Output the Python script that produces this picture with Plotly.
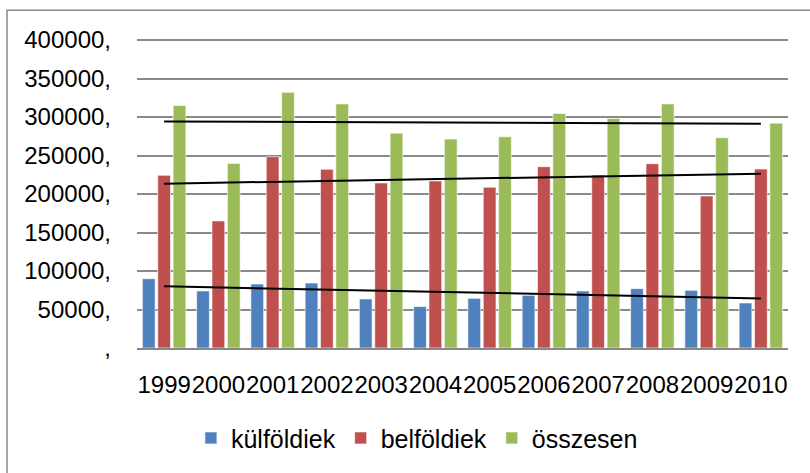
import numpy as np
import plotly.graph_objects as go

years = ["1999", "2000", "2001", "2002", "2003", "2004", "2005", "2006", "2007", "2008", "2009", "2010"]
kulfoldiek = [90000, 74100, 83100, 84400, 63700, 53800, 64500, 68400, 74100, 77100, 74900, 58500]
belfoldiek = [224300, 165100, 248500, 232100, 214400, 217000, 208800, 235500, 224700, 239400, 197500, 232500]
osszesen = [315000, 239800, 332200, 317100, 279100, 271400, 274400, 304600, 298100, 317100, 273100, 292100]
series_names = ["külföldiek", "belföldiek", "összesen"]
colors = ["#4F81BD", "#C0504D", "#9BBB59"]
ytick_vals = [0, 50000, 100000, 150000, 200000, 250000, 300000, 350000, 400000]
ytick_text = [",", "50000,", "100000,", "150000,", "200000,", "250000,", "300000,", "350000,", "400000,"]

FONT = "Liberation Sans"
fig = go.Figure()
for name, vals, col in zip(series_names, [kulfoldiek, belfoldiek, osszesen], colors):
    fig.add_trace(go.Bar(x=years, y=vals, name=name,
                         marker=dict(color=col, line=dict(color="rgba(255,255,255,0.6)", width=1))))

# linear trendlines fitted to each series
xi = np.arange(len(years))
for vals in [kulfoldiek, belfoldiek, osszesen]:
    k, b = np.polyfit(xi, vals, 1)
    fig.add_trace(go.Scatter(x=years, y=list(k * xi + b), mode="lines",
                             line=dict(color="black", width=2), showlegend=False, hoverinfo="skip"))

fig.update_layout(
    width=810, height=473,
    margin=dict(l=137, r=22, t=37, b=125, autoexpand=False),
    paper_bgcolor="white", plot_bgcolor="white",
    barmode="group", bargap=0.15, bargroupgap=0.17,
    font=dict(family=FONT, size=24, color="black"),
    showlegend=True,
    legend=dict(orientation="h", x=0.43, xanchor="center", y=-0.29, yanchor="middle",
                font=dict(family=FONT, size=25), traceorder="normal"),
    xaxis=dict(tickangle=0, showgrid=False, showline=True, linecolor="#888888", linewidth=2,
               ticks="outside", ticklen=14, tickcolor="rgba(0,0,0,0)", automargin=False,
               tickfont=dict(size=24)),
    yaxis=dict(range=[0, 404000], tickmode="array", tickvals=ytick_vals, ticktext=ytick_text,
               showgrid=True, gridcolor="#8a8a8a", gridwidth=2, zeroline=False,
               showline=False, ticks="", ticklabelstandoff=25,
               automargin=False, tickfont=dict(size=24)),
    shapes=[dict(type="rect", xref="paper", yref="paper",
                 x0=(7 - 137) / 651, x1=1.2, y0=-0.6, y1=(348 - 10.3) / 311,
                 line=dict(color="#888888", width=1.5), fillcolor="rgba(0,0,0,0)", layer="above")],
)
fig.write_html("out.html", post_script="document.body.style.margin='0';", config={"displayModeBar": False})
